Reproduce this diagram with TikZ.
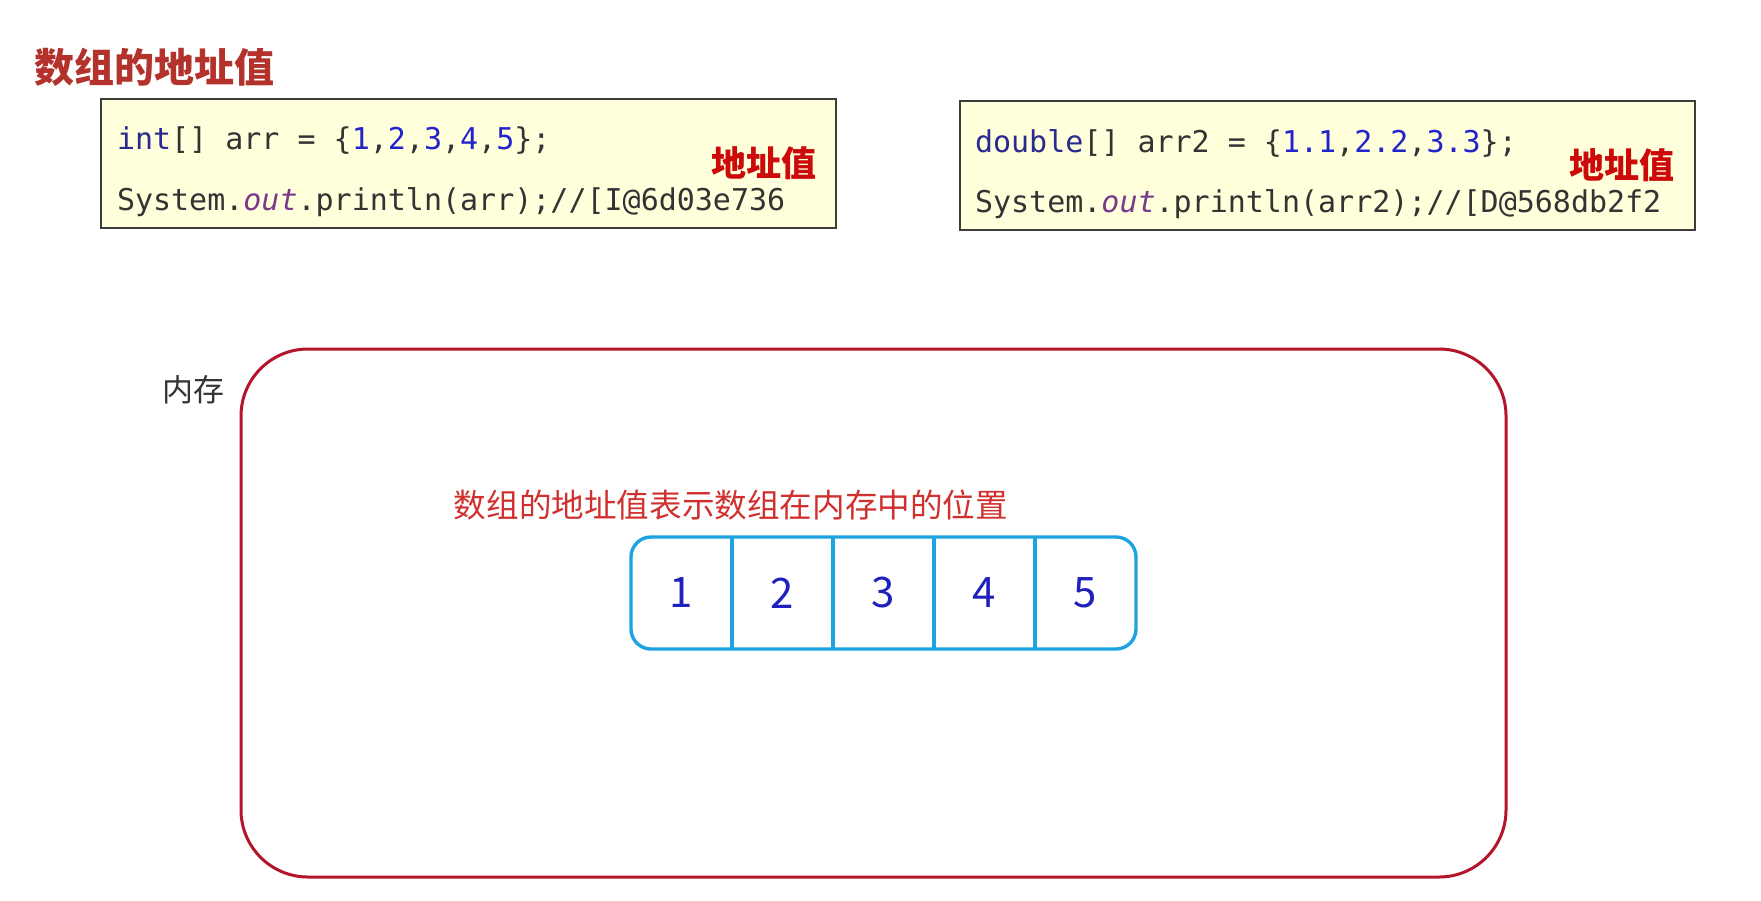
\documentclass[tikz,border=0pt]{standalone}
\usepackage{fontspec}
\usepackage{xcolor}
\usepackage{tikz}
\usetikzlibrary{positioning}
\setmainfont{Noto Sans CJK SC}
\newfontfamily\cjk{Noto Sans CJK SC}
\newfontfamily\codefont{DejaVu Sans Mono}
\definecolor{titlered}{HTML}{B3322C}
\definecolor{addrred}{HTML}{CC0A0A}
\definecolor{memred}{HTML}{B5152B}
\definecolor{notered}{HTML}{D0302E}
\definecolor{codegray}{HTML}{333333}
\definecolor{kwblue}{HTML}{2A2A8F}
\definecolor{numblue}{HTML}{2323CC}
\definecolor{outpurple}{HTML}{7A3A8C}
\definecolor{cellcyan}{HTML}{1CA3E0}
\definecolor{digitblue}{HTML}{2020BE}
\definecolor{codebg}{HTML}{FFFFDC}
\definecolor{boxgray}{HTML}{3C3C3C}

\begin{document}
\begin{tikzpicture}[
  x=1pt, y=-1pt,
  every node/.style={inner sep=0pt, outer sep=0pt},
  titletext/.style={font=\cjk\bfseries\fontsize{40}{44}\selectfont, text=titlered},
  codebox/.style={draw=boxgray, fill=codebg, line width=1.3pt,
                  minimum width=735pt, minimum height=129pt},
  codeline/.style={font=\codefont\fontsize{30}{34}\selectfont, text=codegray, anchor=west},
  addrtag/.style={font=\cjk\bfseries\fontsize{35}{38}\selectfont, text=addrred},
  memory/.style={draw=memred, line width=3pt, rounded corners=67pt,
                 minimum width=1265pt, minimum height=528pt},
  cell/.style={minimum width=101pt, minimum height=112pt,
               font=\cjk\fontsize{42}{46}\selectfont, text=digitblue},
  cellline/.style={draw=cellcyan, line width=3.4pt},
]
  \useasboundingbox[fill=white] (0,0) rectangle (1761,900);

  \node[titletext, anchor=west] (title) at (34,67) {数组的地址值};

  % int array
  \node[codebox] (box1) at (468.5,163.5) {};
  \node[codeline] (code1a) at (117,141)
    {\textcolor{kwblue}{int}[] arr = \{\textcolor{numblue}{1},\textcolor{numblue}{2},\textcolor{numblue}{3},\textcolor{numblue}{4},\textcolor{numblue}{5}\};};
  \node[codeline] (code1b) at (117,202)
    {System.\textcolor{outpurple}{\itshape out}.println(arr);//[I@6d03e736};
  \node[addrtag] (addr1) at (764,163) {地址值};

  % double array
  \node[codebox] (box2) at (1327.5,165.5) {};
  \node[codeline] (code2a) at (975,143)
    {\textcolor{kwblue}{double}[] arr2 = \{\textcolor{numblue}{1.1},\textcolor{numblue}{2.2},\textcolor{numblue}{3.3}\};};
  \node[codeline] (code2b) at (975,204)
    {System.\textcolor{outpurple}{\itshape out}.println(arr2);//[D@568db2f2};
  \node[addrtag] (addr2) at (1622,165) {地址值};

  % memory
  \node[memory] (mem) at (873.5,613) {};
  \node[font=\cjk\fontsize{31}{34}\selectfont, text=codegray] (memlabel) at (193,390) {内存};
  \node[font=\cjk\fontsize{32.6}{36}\selectfont, text=notered] (note) at (731,505) {数组的地址值表示数组在内存中的位置};

  \node[cell, anchor=west] (c1) at (631,593) {1};
  \foreach \i [remember=\i as \prev (initially 1)] in {2,...,5}
    \node[cell, right=0pt of c\prev] (c\i) {\i};

  \draw[cellline, rounded corners=20pt] (c1.north west) rectangle (c5.south east);
  \foreach \i in {1,...,4}
    \draw[cellline] (c\i.north east) -- (c\i.south east);
\end{tikzpicture}
\end{document}
